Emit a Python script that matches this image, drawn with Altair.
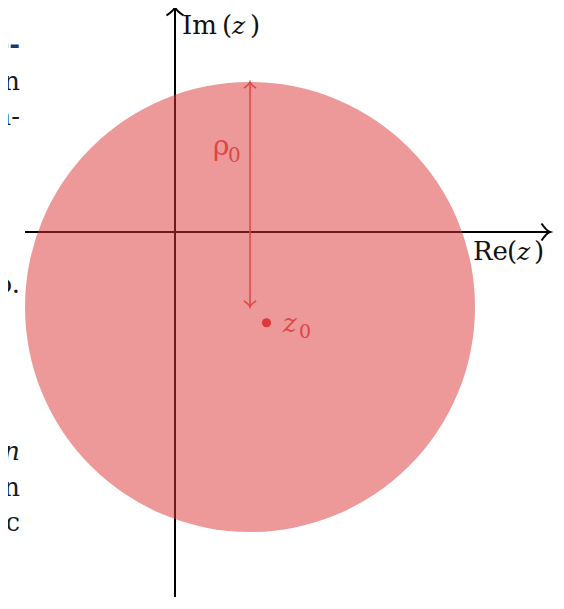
import math
import altair as alt
import pandas as pd

# ---------------- data (complex-plane units) ----------------
re_axis = [-2.0, 5.0]          # extent of the real axis
im_axis = [-5.2, 3.0]          # extent of the imaginary axis
disk_center = [1.0, -1.0]      # centre of the disk
rho0 = [3.0]                   # radius of the disk
z0_point = [1.22, -1.21]       # the marked point z0

# fragments of the surrounding page text visible at the left edge
frag_text = ["o-", "n", "n-", "o.", "on", "n", "nc"]
frag_kind = ["bold", "normal", "normal", "normal", "italic", "normal", "normal"]
frag_y = [2.387, 1.893, 1.427, -0.813, -3.04, -3.52, -3.987]
frag_x = -2.067

# ---------------- layout ----------------
PX = 75.0                       # pixels per unit
W, H = 548, 589
OX, OY = 175, 232               # page pixel of the origin
x_dom = [(8 - OX) / PX, (8 + W - OX) / PX]
y_dom = [(OY - 8 - H) / PX, (OY - 8) / PX]
xs = alt.Scale(domain=x_dom, nice=False, zero=False)
ys = alt.Scale(domain=y_dom, nice=False, zero=False)

SERIF = "DejaVu Serif"
RED = "#E04646"
ARROW = "M -1 -1 Q -0.4 -0.12 0 0 Q -0.4 0.12 -1 1"


def X(f="x"):
    return alt.X(f"{f}:Q", scale=xs, axis=None)


def Y(f="y"):
    return alt.Y(f"{f}:Q", scale=ys, axis=None)


# axes
axes_df = pd.DataFrame({"x": [re_axis[0], 0], "x2": [re_axis[1], 0],
                        "y": [0, im_axis[0]], "y2": [0, im_axis[1]]})
axes = alt.Chart(axes_df).mark_rule(color="black", strokeWidth=2).encode(
    x=X(), x2="x2", y=Y(), y2="y2")

heads_df = pd.DataFrame({"x": [re_axis[1], 0], "y": [0, im_axis[1]], "a": [0, 270]})
heads = alt.Chart(heads_df).mark_point(
    shape=ARROW, filled=False, color="black", strokeWidth=2, size=289, opacity=1
).encode(x=X(), y=Y(), angle=alt.Angle("a:Q", scale=None))

# disk
disk_df = pd.DataFrame({"x": [disk_center[0]], "y": [disk_center[1]], "r": rho0})
disk = alt.Chart(disk_df).mark_arc(
    theta=0, theta2=2 * math.pi, fill="#DB3333", opacity=0.5, stroke=None
).encode(x=X(), y=Y(),
         radius=alt.Radius("r:Q", scale=alt.Scale(type="linear", domain=[0, 1],
                                                  range=[0, PX], zero=True)))

# radius arrow
rad_df = pd.DataFrame({"x": [disk_center[0]], "y": [disk_center[1]],
                       "y2": [disk_center[1] + rho0[0]]})
rad = alt.Chart(rad_df).mark_rule(color=RED, strokeWidth=1.5).encode(
    x=X(), y=Y(), y2="y2")
rheads_df = pd.DataFrame({"x": [disk_center[0]] * 2,
                          "y": [disk_center[1] + rho0[0], disk_center[1]],
                          "a": [270, 90]})
rheads = alt.Chart(rheads_df).mark_point(
    shape=ARROW, filled=False, color=RED, strokeWidth=1.5, size=150, opacity=1
).encode(x=X(), y=Y(), angle=alt.Angle("a:Q", scale=None))

# point z0
dot = alt.Chart(pd.DataFrame({"x": [z0_point[0]], "y": [z0_point[1]]})).mark_circle(
    color="#E03838", size=85, opacity=1).encode(x=X(), y=Y())


# text pieces: (text, anchor_x, anchor_y, pixel dx, pixel dy)
def pieces(rows):
    return pd.DataFrame({
        "t": [r[0] for r in rows],
        "x": [r[1] + r[3] / PX for r in rows],
        "y": [r[2] - r[4] / PX for r in rows],
    })


im_a = (0.0933, 2.64)
re_a = (3.973, -0.373)
up_df = pieces([("Im", *im_a, 0, 0), ("(", *im_a, 40, 0), (")", *im_a, 68, 0),
                ("Re", *re_a, 0, 0), ("(", *re_a, 34, 0), (")", *re_a, 61, 0)])
it_df = pieces([("z", *im_a, 50, 0), ("z", *re_a, 44, 0)])

up_txt = alt.Chart(up_df).mark_text(
    font=SERIF, fontSize=26, align="left", baseline="alphabetic", color="#111111"
).encode(x=X(), y=Y(), text="t:N")
it_txt = alt.Chart(it_df).mark_text(
    font=SERIF, fontSize=25, fontStyle="italic", align="left",
    baseline="alphabetic", color="#111111"
).encode(x=X(), y=Y(), text="t:N")

# rho0 and z0 labels
rho_a = (0.507, 1.027)
z_a = (1.44, -1.333)
rho_main = pieces([("ρ", *rho_a, 0, 0)])
rho_sub = pieces([("0", *rho_a, 15, 7)])
z_main = pieces([("z", *z_a, 0, 0)])
z_sub = pieces([("0", *z_a, 16, 6)])

lab = []
lab.append(alt.Chart(rho_main).mark_text(font=SERIF, fontSize=28, align="left",
                                         baseline="alphabetic", color=RED)
           .encode(x=X(), y=Y(), text="t:N"))
lab.append(alt.Chart(rho_sub).mark_text(font=SERIF, fontSize=20, align="left",
                                        baseline="alphabetic", color=RED)
           .encode(x=X(), y=Y(), text="t:N"))
lab.append(alt.Chart(z_main).mark_text(font=SERIF, fontSize=26, fontStyle="italic",
                                       align="left", baseline="alphabetic", color=RED)
           .encode(x=X(), y=Y(), text="t:N"))
lab.append(alt.Chart(z_sub).mark_text(font=SERIF, fontSize=19, align="left",
                                      baseline="alphabetic", color=RED)
           .encode(x=X(), y=Y(), text="t:N"))

# left-edge fragments
frag_df = pd.DataFrame({"t": frag_text, "k": frag_kind, "y": frag_y,
                        "x": [frag_x] * len(frag_text)})
frag_layers = []
for kind, weight, style, col in [("normal", "normal", "normal", "#1a1a1a"),
                                 ("italic", "normal", "italic", "#1a1a1a"),
                                 ("bold", "bold", "normal", "#1B3A6B")]:
    frag_layers.append(
        alt.Chart(frag_df[frag_df.k == kind]).mark_text(
            font=SERIF, fontSize=26, fontWeight=weight, fontStyle=style,
            align="right", baseline="alphabetic", color=col
        ).encode(x=X(), y=Y(), text="t:N"))

chart = alt.layer(
    axes, heads, disk, rad, rheads, dot, up_txt, it_txt, *lab, *frag_layers
).properties(
    width=W, height=H, padding=0, autosize=alt.AutoSizeParams(type="none")
).configure_view(stroke=None)

chart.save("out.html", embed_options={"renderer": "svg", "actions": False})
